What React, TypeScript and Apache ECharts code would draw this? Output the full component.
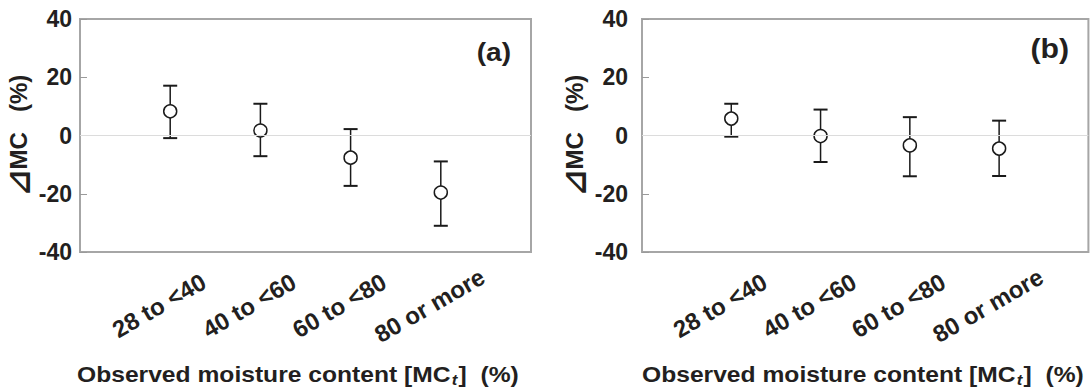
import React, { useEffect, useRef } from 'react';
import * as echarts from 'echarts';

const categories = ['28 to <40', '40 to <60', '60 to <80', '80 or more'];
const yMin = -40;
const yMax = 40;
const yStep = 20;
const meanA = [8.3, 1.7, -7.6, -19.6];
const upperA = [17.1, 10.9, 2.2, -8.9];
const lowerA = [-0.9, -7.1, -17.3, -31.0];
const meanB = [5.8, -0.2, -3.4, -4.5];
const upperB = [10.9, 8.9, 6.3, 5.1];
const lowerB = [-0.4, -9.1, -14.0, -13.9];
const panelLabels = ['(a)', '(b)'];
const yNameSymbol = '⊿';
const yNameText = 'MC   (%)';
const xTitleMain = 'Observed moisture content [MC';
const xTitleSub = 't';
const xTitleEnd = ']  (%)';

const FONT = '"Liberation Sans", Arial, Helvetica, "DejaVu Sans", sans-serif';
const TEXT = '#231f20';
const LINE = '#1a1a1a';

export default function App() {
  const ref = useRef<HTMLDivElement>(null);
  useEffect(() => {
    if (!ref.current) return;
    const chart = echarts.init(ref.current, undefined, { renderer: 'svg' });

    const grids = [
      { left: 80, top: 19, width: 451, height: 233 },
      { left: 642, top: 19, width: 451, height: 233 },
    ];
    const labelMargins = [8, 14];
    const nameGaps = [45, 49];

    const errRender = (params: any, api: any) => {
      const x = api.value(0);
      const lo = api.value(1);
      const hi = api.value(2);
      const t = api.coord([x, hi]);
      const b = api.coord([x, lo]);
      const hw = 7;
      return {
        type: 'group',
        children: [
          { type: 'line', shape: { x1: t[0], y1: t[1], x2: b[0], y2: b[1] }, style: { stroke: LINE, lineWidth: 1.5 } },
          { type: 'line', shape: { x1: t[0] - hw, y1: t[1], x2: t[0] + hw, y2: t[1] }, style: { stroke: LINE, lineWidth: 2 } },
          { type: 'line', shape: { x1: b[0] - hw, y1: b[1], x2: b[0] + hw, y2: b[1] }, style: { stroke: LINE, lineWidth: 2 } },
        ],
      };
    };

    const panels = [
      { mean: meanA, upper: upperA, lower: lowerA },
      { mean: meanB, upper: upperB, lower: lowerB },
    ];

    const series: any[] = [];
    panels.forEach((p, k) => {
      series.push({
        type: 'custom',
        xAxisIndex: k,
        yAxisIndex: k,
        renderItem: errRender,
        data: categories.map((_, i) => [i + 1, p.lower[i], p.upper[i]]),
        markLine: {
          silent: true,
          symbol: ['none', 'none'],
          label: { show: false },
          lineStyle: { color: '#dcdcdc', width: 1, type: 'solid' },
          data: [{ yAxis: 0 }],
        },
        z: 2,
      });
      series.push({
        type: 'scatter',
        xAxisIndex: k,
        yAxisIndex: k,
        symbol: 'circle',
        symbolSize: 13,
        itemStyle: { color: '#ffffff', borderColor: LINE, borderWidth: 1.5, opacity: 1 },
        data: categories.map((_, i) => [i + 1, p.mean[i]]),
        z: 3,
      });
    });

    const titleGraphic = (x: number) => ({
      type: 'text',
      x,
      y: 374,
      scaleX: 1.12,
      style: {
        text: `{a|${xTitleMain}}{s|${xTitleSub}}{a|${xTitleEnd}}`,
        textAlign: 'left',
        textVerticalAlign: 'middle',
        rich: {
          a: { fontFamily: FONT, fontSize: 22, fontWeight: 'bold', fill: TEXT, color: TEXT },
          s: {
            fontFamily: FONT,
            fontSize: 15,
            fontWeight: 'bold',
            fontStyle: 'italic',
            fill: TEXT,
            color: TEXT,
            padding: [12, 1, 0, 1],
          },
        },
      },
    });

    chart.setOption({
      animation: false,
      backgroundColor: '#ffffff',
      grid: grids.map((g) => ({
        ...g,
        show: true,
        borderColor: '#a6a6a6',
        borderWidth: 2,
        backgroundColor: 'transparent',
        containLabel: false,
      })),
      xAxis: grids.map((_, k) => ({
        type: 'value',
        gridIndex: k,
        min: 0,
        max: 5,
        interval: 1,
        axisLine: { show: false },
        axisTick: { show: false },
        splitLine: { show: false },
        axisLabel: {
          formatter: (v: number) => categories[v - 1] ?? '',
          rotate: 30,
          align: 'center',
          verticalAlign: 'middle',
          margin: 47,
          padding: [0, 26, 0, 0],
          fontSize: 24,
          fontWeight: 'bold',
          fontFamily: FONT,
          color: TEXT,
        },
      })),
      yAxis: grids.map((_, k) => ({
        type: 'value',
        gridIndex: k,
        min: yMin,
        max: yMax,
        interval: yStep,
        name: `{t|${yNameSymbol}}{m|${yNameText}}`,
        nameLocation: 'middle',
        nameGap: nameGaps[k],
        nameTextStyle: {
          fontSize: 24,
          fontWeight: 'bold',
          fontFamily: FONT,
          color: TEXT,
          rich: {
            t: { fontSize: 32, fontWeight: 'bold', fontFamily: '"DejaVu Sans", sans-serif', color: TEXT },
            m: { fontSize: 24, fontWeight: 'bold', fontFamily: FONT, color: TEXT },
          },
        },
        axisLine: { show: false },
        axisTick: { show: true, inside: true, length: 7, lineStyle: { color: '#9a9a9a', width: 1 } },
        splitLine: { show: false },
        axisLabel: {
          margin: labelMargins[k],
          fontSize: 23,
          fontWeight: 'bold',
          fontFamily: FONT,
          color: TEXT,
        },
      })),
      series,
      graphic: [
        {
          type: 'text',
          x: 511,
          y: 52,
          scaleX: 1.08,
          style: { text: panelLabels[0], textAlign: 'right', textVerticalAlign: 'middle', fontSize: 26, fontWeight: 'bold', fontFamily: FONT, fill: TEXT },
        },
        {
          type: 'text',
          x: 1069,
          y: 48,
          scaleX: 1.08,
          style: { text: panelLabels[1], textAlign: 'right', textVerticalAlign: 'middle', fontSize: 28, fontWeight: 'bold', fontFamily: FONT, fill: TEXT },
        },
        titleGraphic(77),
        titleGraphic(642),
      ],
    });
    return () => chart.dispose();
  }, []);
  return <div ref={ref} style={{ position: 'absolute', left: 0, top: 0, width: 1091, height: 392 }} />;
}
